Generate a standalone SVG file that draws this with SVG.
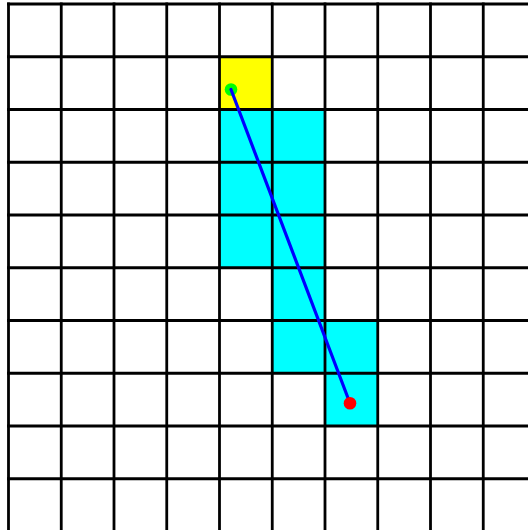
<svg xmlns="http://www.w3.org/2000/svg" width="528" height="530" viewBox="0 0 528 530">
<style>
.bg{fill:#ffffff}
.start{fill:#ffff00}
.path{fill:#00ffff}
.grid line{stroke:#000000;stroke-width:2.8}
.conn{stroke:#0000ff;stroke-width:3.2;stroke-linecap:round;fill:none}
</style>
<rect class="bg" x="0" y="0" width="528" height="530"/>
<g id="cells">
<rect id="cell-start" class="start" x="219.5" y="56.75" width="52.75" height="52.75"/>
<rect class="path" x="219.5" y="109.5" width="52.75" height="158.25"/>
<rect class="path" x="272.25" y="109.5" width="52.75" height="263.75"/>
<rect class="path" x="325" y="320.5" width="52.75" height="105.5"/>
</g>
<g id="grid" class="grid">
<line x1="8.5" y1="2.6" x2="8.5" y2="530"/>
<line x1="61.25" y1="2.6" x2="61.25" y2="530"/>
<line x1="114" y1="2.6" x2="114" y2="530"/>
<line x1="166.75" y1="2.6" x2="166.75" y2="530"/>
<line x1="219.5" y1="2.6" x2="219.5" y2="530"/>
<line x1="272.25" y1="2.6" x2="272.25" y2="530"/>
<line x1="325" y1="2.6" x2="325" y2="530"/>
<line x1="377.75" y1="2.6" x2="377.75" y2="530"/>
<line x1="430.5" y1="2.6" x2="430.5" y2="530"/>
<line x1="483.25" y1="2.6" x2="483.25" y2="530"/>
<line x1="7.1" y1="4" x2="528" y2="4"/>
<line x1="7.1" y1="56.75" x2="528" y2="56.75"/>
<line x1="7.1" y1="109.5" x2="528" y2="109.5"/>
<line x1="7.1" y1="162.25" x2="528" y2="162.25"/>
<line x1="7.1" y1="215" x2="528" y2="215"/>
<line x1="7.1" y1="267.75" x2="528" y2="267.75"/>
<line x1="7.1" y1="320.5" x2="528" y2="320.5"/>
<line x1="7.1" y1="373.25" x2="528" y2="373.25"/>
<line x1="7.1" y1="426" x2="528" y2="426"/>
<line x1="7.1" y1="478.75" x2="528" y2="478.75"/>
</g>
<g id="start-point"><circle cx="231" cy="89.5" r="6.3" fill="#00ff00"/></g>
<g id="connectors"><line class="conn" x1="231" y1="89.5" x2="350" y2="403.3"/></g>
<g id="end-point"><circle cx="350" cy="403.3" r="6.3" fill="#ff0000"/></g>
</svg>
